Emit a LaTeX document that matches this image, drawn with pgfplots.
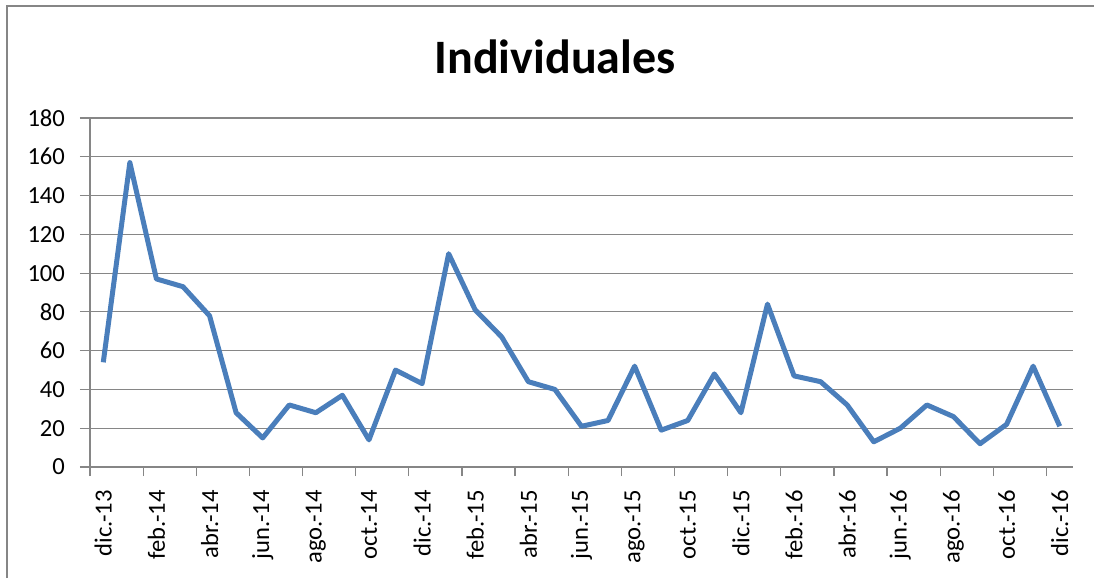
\documentclass[border=0pt]{standalone}
\usepackage{pgfplots}
\pgfplotsset{compat=1.18}
\usepackage{fontspec}
\setmainfont{Carlito}
\definecolor{serie}{HTML}{4A7EBB}
\definecolor{ejes}{HTML}{868686}

\begin{document}
\begin{tikzpicture}
% 1 px of the reference = 0.5pt
\useasboundingbox (-45pt,-55.5pt) rectangle (502.5pt,233.5pt);
\draw[ejes, line width=1pt] (-41.5pt,-55.5pt) -- (-41.5pt,230.5pt) -- (502pt,230.5pt);
\node[anchor=base, font=\fontsize{24}{28}\selectfont\bfseries] at (232.5pt,196.5pt) {Individuales};
\begin{axis}[
    at={(0,0)}, anchor=south west,
    scale only axis,
    width=491.5pt, height=174.5pt,
    xmin=-0.5, xmax=36.5,
    ymin=0, ymax=180,
    ytick={0,20,...,180},
    xtick={0,2,...,36},
    xticklabels={dic.-13,feb.-14,abr.-14,jun.-14,ago.-14,oct.-14,dic.-14,feb.-15,abr.-15,jun.-15,ago.-15,oct.-15,dic.-15,feb.-16,abr.-16,jun.-16,ago.-16,oct.-16,dic.-16},
    minor xtick={-0.5,1.5,...,34.5},
    axis lines*=left,
    axis line style={ejes, line width=0.6pt},
    tick align=outside,
    major tick length=5pt,
    minor tick length=4.5pt,
    major x tick style={draw=none},
    minor x tick style={ejes, line width=0.6pt},
    major y tick style={ejes, line width=0.6pt},
    ymajorgrids,
    grid style={ejes, line width=0.6pt},
    tick label style={font=\fontsize{12.3}{14}\selectfont},
    /pgf/number format/assume math mode=true,
    xticklabel style={rotate=90, anchor=east, xshift=-3pt},
    yticklabel style={xshift=-4pt},
    clip=false,
]
\addplot[serie, line width=2.5pt, line join=round] coordinates {
(0,54) (1,157) (2,97) (3,93) (4,78) (5,28) (6,15) (7,32) (8,28) (9,37)
(10,14) (11,50) (12,43) (13,110) (14,81) (15,67) (16,44) (17,40) (18,21) (19,24)
(20,52) (21,19) (22,24) (23,48) (24,28) (25,84) (26,47) (27,44) (28,32) (29,13)
(30,20) (31,32) (32,26) (33,12) (34,22) (35,52) (36,21)
};
\end{axis}
\end{tikzpicture}
\end{document}
